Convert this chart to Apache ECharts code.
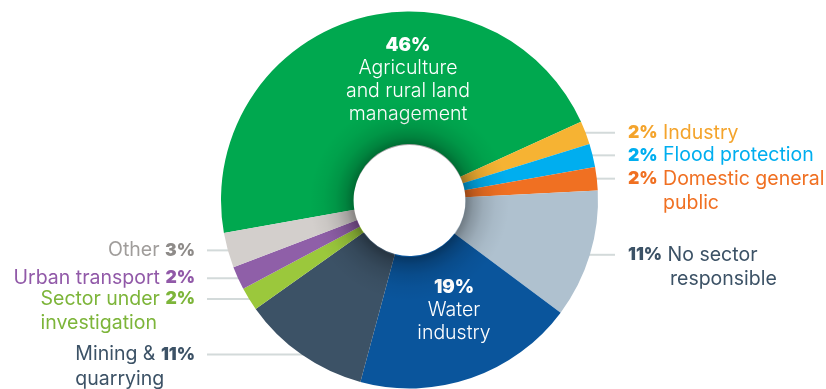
<!DOCTYPE html>
<html><head><meta charset="utf-8">
<script src="https://cdn.jsdelivr.net/npm/echarts@6/dist/echarts.min.js"></script>
<style>html,body{margin:0;padding:0;background:#fff}#c{width:826px;height:389px}</style>
</head><body><div id="c"></div>
<script>
// ---- data ----
const sectors = ['Agriculture and rural land management','Industry','Flood protection','Domestic general public','No sector responsible','Water industry','Mining & quarrying','Sector under investigation','Urban transport','Other'];
const labelLines = [
  ['Agriculture','and rural land','management'],
  ['Industry'],
  ['Flood protection'],
  ['Domestic general','public'],
  ['No sector','responsible'],
  ['Water','industry'],
  ['Mining &','quarrying'],
  ['Sector under','investigation'],
  ['Urban transport'],
  ['Other']
];
const shares = [46,2,2,2,11,19,11,2,2,3];
const sliceColors = ['#00A84F','#F6B333','#00AEEF','#F07022','#AFC1CF','#0A559C','#3C5266','#9BC83C','#8F5FA8','#D3CFCC'];
const textColors = ['#FFFFFF','#F4A42C','#00AEEF','#F07022','#3C5266','#FFFFFF','#3C5266','#7DB53A','#9159A8','#A09D9B'];
const pctColors  = ['#FFFFFF','#F4A42C','#00AEEF','#F07022','#3C5266','#FFFFFF','#3C5266','#7DB53A','#9159A8','#8E8B89'];
const sides = ['inner','right','right','right','right','inner','left','left','left','left'];

// ---- layout ----
const CX = 409.5, CY = 200, R_IN = 56, R_OUT = 188.5, START = 190.1;
const FONT = 'Inter';
const FS = 19.5, LH = 24.5, ILH = 23;
const total = shares.reduce((a,b)=>a+b,0);
const mids = [];
{ let acc = 0; shares.forEach(v => { mids.push(START - (acc + v/2)/total*360); acc += v; }); }
const innerPos = {0: [408, 33], 5: [454, 275]};

function fmt(i){
  const p = shares[i] + '%';
  const L = labelLines[i];
  if (sides[i] === 'inner') return '{q|' + p + '}\n' + L.map(s => '{m|' + s + '}').join('\n');
  if (sides[i] === 'right') {
    let s = '{p|' + p + '}{n| ' + L[0] + '}';
    for (let k = 1; k < L.length; k++) s += '\n{i' + (shares[i] >= 10 ? '2' : '1') + '|' + L[k] + '}';
    return s;
  }
  let s = '{n|' + L[0] + ' }{p|' + p + '}';
  for (let k = 1; k < L.length; k++) s += '\n{l|' + L[k] + '}';
  return s;
}

const data = shares.map((v, i) => {
  const inner = sides[i] === 'inner';
  return {
    value: v,
    name: sectors[i],
    itemStyle: {color: sliceColors[i]},
    label: {
      show: true,
      position: inner ? 'inside' : 'outside',
      formatter: fmt(i),
      color: textColors[i],
      rich: {
        q: {fontFamily: FONT, fontWeight: 900, fontSize: 18.5, color: pctColors[i], lineHeight: ILH + 1},
        m: {fontFamily: FONT, fontWeight: 300, fontSize: FS, color: textColors[i], lineHeight: ILH},
        p: {fontFamily: FONT, fontWeight: 900, fontSize: 17.5, color: pctColors[i], lineHeight: LH},
        n: {fontFamily: FONT, fontWeight: 400, fontSize: FS, color: textColors[i], lineHeight: LH},
        i1: {fontFamily: FONT, fontSize: FS, color: textColors[i], lineHeight: LH, padding: [0,0,0,35]},
        i2: {fontFamily: FONT, fontSize: FS, color: textColors[i], lineHeight: LH, padding: [0,0,0,42]},
        l: {fontFamily: FONT, fontSize: FS, color: textColors[i], lineHeight: LH, align: 'left'}
      }
    },
    labelLine: {show: !inner}
  };
});

const chart = echarts.init(document.getElementById('c'), null, {renderer: 'canvas'});
chart.setOption({
  animation: false,
  backgroundColor: '#ffffff',
  series: [{
    type: 'pie',
    center: [CX, CY],
    radius: [R_IN, R_OUT],
    startAngle: START,
    clockwise: true,
    silent: true,
    avoidLabelOverlap: false,
    data: data,
    labelLine: {show: true, length: 0, length2: 10, lineStyle: {color: '#D3DADA', width: 2}},
    labelLayout: function (params) {
      const i = params.dataIndex;
      if (sides[i] === 'inner') {
        return {x: innerPos[i][0], y: innerPos[i][1], align: 'center', verticalAlign: 'top'};
      }
      const a = mids[i] * Math.PI / 180;
      const ex = CX + R_OUT * Math.cos(a), ey = CY - R_OUT * Math.sin(a);
      if (sides[i] === 'right') {
        return {x: 628, y: ey - LH/2, align: 'left', verticalAlign: 'top',
          labelLinePoints: [[ex - 2, ey], [ex - 2, ey], [615, ey]]};
      }
      return {x: 195, y: ey - LH/2, align: 'right', verticalAlign: 'top',
        labelLinePoints: [[ex + 2, ey], [ex + 2, ey], [207, ey]]};
    }
  }],
  graphic: [{
    // soft inner shadow around the hole
    type: 'ring',
    silent: true,
    z: 10,
    shape: {cx: CX, cy: CY + 1, r: 100, r0: R_IN},
    style: {fill: new echarts.graphic.RadialGradient(0.5, 0.5, 0.5, [
      {offset: 0, color: 'rgba(0,0,0,0.36)'},
      {offset: 0.56, color: 'rgba(0,0,0,0.36)'},
      {offset: 0.64, color: 'rgba(0,0,0,0.22)'},
      {offset: 0.74, color: 'rgba(0,0,0,0.11)'},
      {offset: 0.86, color: 'rgba(0,0,0,0.04)'},
      {offset: 1, color: 'rgba(0,0,0,0)'}])}
  }]
});
</script>
</body></html>
